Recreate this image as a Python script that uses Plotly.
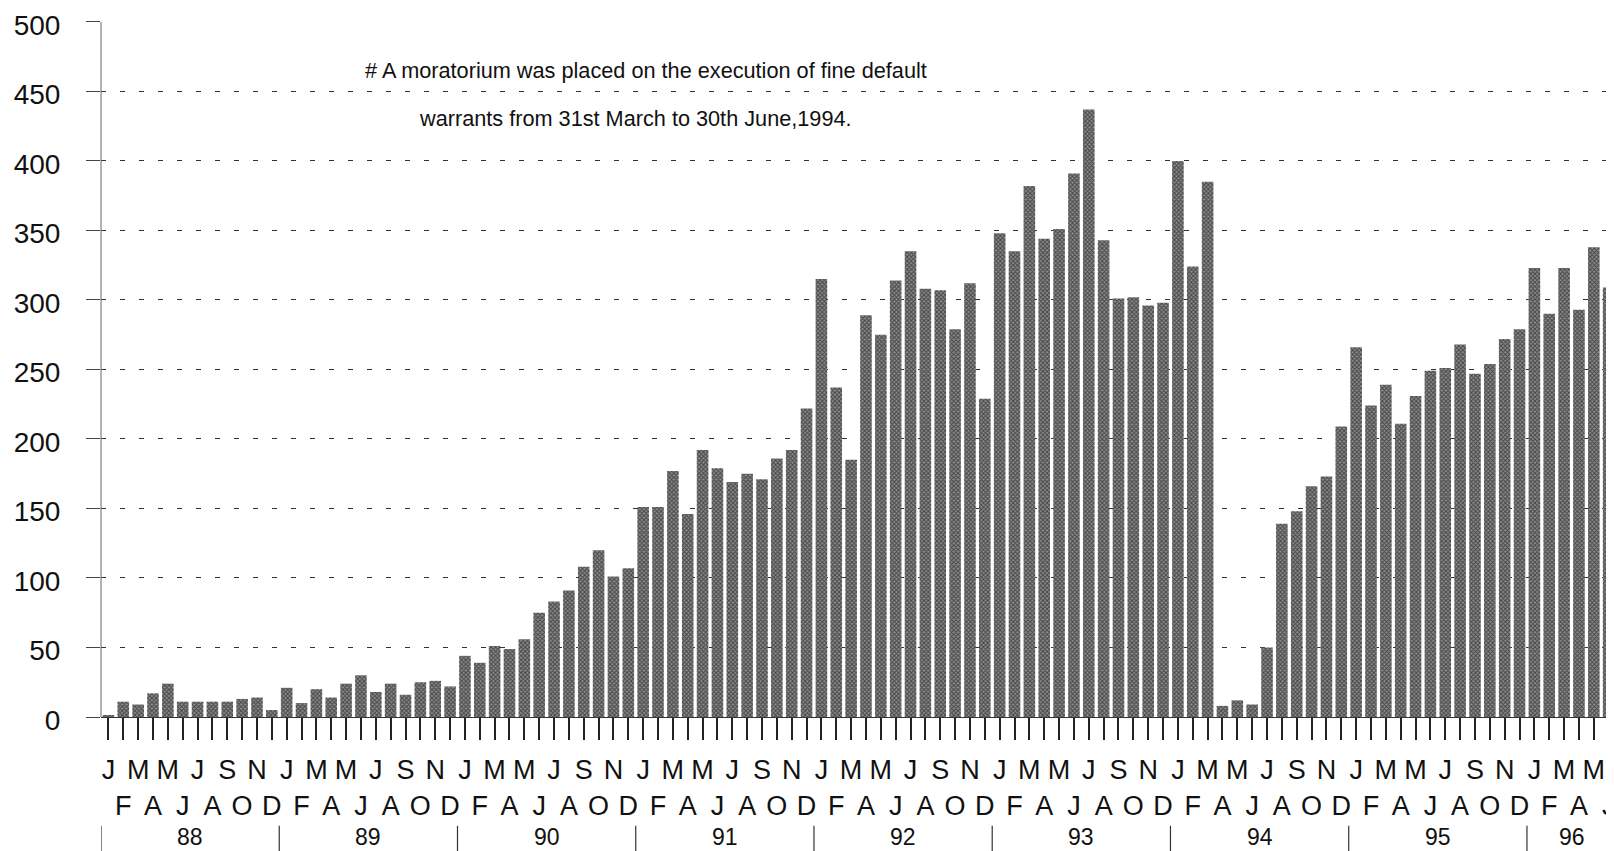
import plotly.graph_objects as go

# ---- data ----
month_letters = ["J", "F", "M", "A", "M", "J", "J", "A", "S", "O", "N", "D"]
year_labels = ["88", "89", "90", "91", "92", "93", "94", "95", "96"]

v1988 = [1, 11, 9, 17, 24, 11, 11, 11, 11, 13, 14, 5]
v1989 = [21, 10, 20, 14, 24, 30, 18, 24, 16, 25, 26, 22]
v1990 = [44, 39, 51, 49, 56, 75, 83, 91, 108, 120, 101, 107]
v1991 = [151, 151, 177, 146, 192, 179, 169, 175, 171, 186, 192, 222]
v1992 = [315, 237, 185, 289, 275, 314, 335, 308, 307, 279, 312, 229]
v1993 = [348, 335, 382, 344, 351, 391, 437, 343, 301, 302, 296, 298]
v1994 = [400, 324, 385, 8, 12, 9, 50, 139, 148, 166, 173, 209]
v1995 = [266, 224, 239, 211, 231, 249, 251, 268, 247, 254, 272, 279]
v1996 = [323, 290, 323, 293, 338, 309]

y_ticks = [0, 50, 100, 150, 200, 250, 300, 350, 400, 450, 500]
grid_vals = [50, 100, 150, 200, 250, 300, 350, 400, 450]

note_line1 = "# A moratorium was placed on the execution of fine default"
note_line2 = "warrants from 31st March to 30th June,1994."

# ---- build ----
values = v1988 + v1989 + v1990 + v1991 + v1992 + v1993 + v1994 + v1995 + v1996
n = len(values)
xs = list(range(n))
ticktext = [month_letters[i % 12] if i % 2 == 0 else "<br>" + month_letters[i % 12] for i in xs]

FONT = "Liberation Sans, Arial, sans-serif"

fig = go.Figure()
fig.add_trace(go.Bar(
    x=xs, y=values,
    marker=dict(color="#5a5a5a",
                line=dict(width=0),
                pattern=dict(shape="x", size=3, solidity=0.55,
                             fgcolor="#000000", bgcolor="#8c8c8c")),
    showlegend=False,
))
# invisible trace on secondary y axis that carries the dashed grid
fig.add_trace(go.Scatter(x=[xs[0]], y=[0], yaxis="y2", mode="markers",
                         marker=dict(opacity=0), showlegend=False, hoverinfo="skip"))

# page body has an 8px margin, so the figure is sized to fit inside the window
fig.update_layout(
    width=1606, height=843,
    margin=dict(l=93, r=0, t=7, b=134),
    paper_bgcolor="white", plot_bgcolor="white",
    bargap=0.22,
    font=dict(family=FONT, color="#111"),
    xaxis=dict(
        range=[-0.5, 101.36],
        tickmode="array", tickvals=xs, ticktext=ticktext,
        ticks="outside", ticklen=22, tickwidth=1.5, tickcolor="#222",
        tickfont=dict(size=27, family=FONT, color="#111"),
        tickangle=0, ticklabelstandoff=7, ticklabeloverflow="allow",
        showline=True, linecolor="#333", linewidth=1,
        showgrid=False, zeroline=False,
        automargin=False,
    ),
    yaxis=dict(
        range=[0, 505],
        tickmode="array", tickvals=y_ticks,
        ticks="outside", ticklen=14, tickwidth=1, tickcolor="#444",
        tickfont=dict(size=28, family=FONT, color="#111"),
        ticklabelstandoff=20, ticklabeloverflow="allow", ticklabelshift=3,
        showline=False,
        showgrid=False, zeroline=False,
        automargin=False,
    ),
    yaxis2=dict(
        range=[0, 505], overlaying="y", side="left",
        tickmode="array", tickvals=grid_vals,
        showticklabels=False, ticks="",
        showgrid=True, gridcolor="#333", gridwidth=1, griddash="5px,14px",
        showline=False, zeroline=False,
    ),
    shapes=[dict(type="line", xref="paper", yref="y", x0=0, x1=0, y0=0, y1=500,
                 line=dict(color="#666", width=1))],
)

# year labels and dividers
for k, lab in enumerate(year_labels):
    start = 12 * k - 0.5
    end = min(12 * k + 11.5, n - 0.5)
    fig.add_shape(type="line", xref="x", yref="paper",
                  x0=start, x1=start, y0=-0.155, y1=-0.193,
                  line=dict(color="#333", width=1.2))
    fig.add_annotation(x=(start + end) / 2, xref="x", y=-0.171, yref="paper",
                       text=lab, showarrow=False, yanchor="middle",
                       font=dict(size=23, family=FONT, color="#111"))

fig.add_annotation(x=0.360, y=0.921, xref="paper", yref="paper", text=note_line1,
                   showarrow=False, xanchor="center", yanchor="middle",
                   font=dict(size=21.7, family=FONT, color="#111"))
fig.add_annotation(x=0.353, y=0.853, xref="paper", yref="paper", text=note_line2,
                   showarrow=False, xanchor="center", yanchor="middle",
                   font=dict(size=21.7, family=FONT, color="#111"))

fig.write_html("out.html")
